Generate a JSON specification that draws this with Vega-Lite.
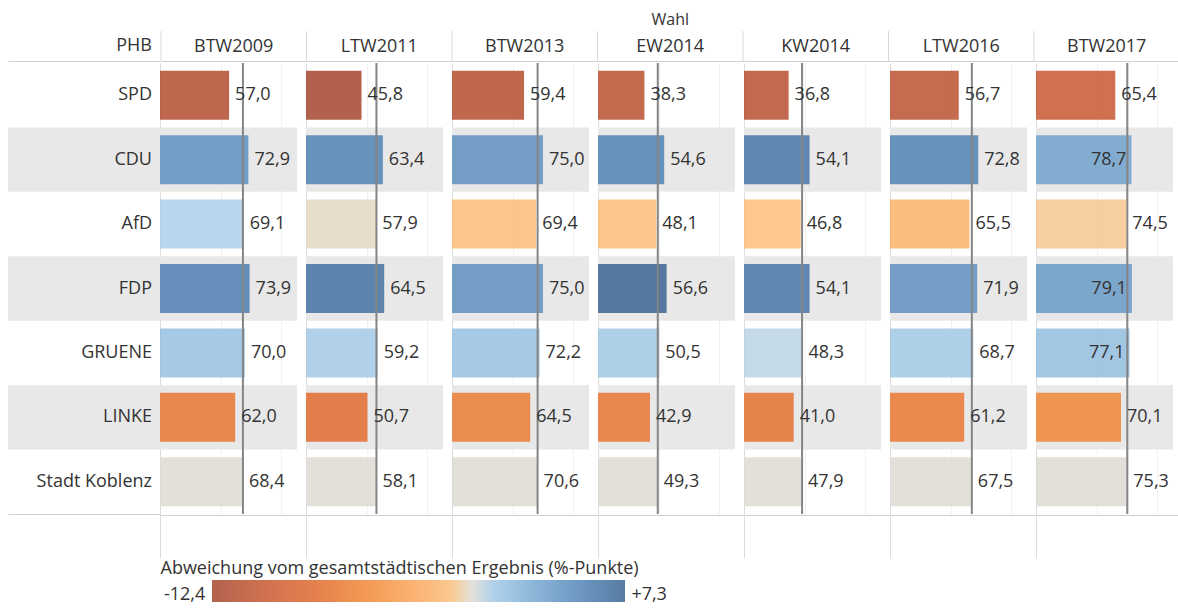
{
  "$schema": "https://vega.github.io/schema/vega-lite/v6.json",
  "padding": {"left": 8, "top": 11, "right": 0, "bottom": 0},
  "background": "white",
  "config": {
    "font": "Open Sans",
    "view": {"stroke": null},
    "locale": {"number": {"decimal": ",", "thousands": ".", "grouping": [3], "currency": ["", " €"], "minus": "-"}}
  },
  "datasets": {
    "main": [
      {"election": "BTW2009", "party": "SPD", "value": 57.0, "dev": -11.4},
      {"election": "BTW2009", "party": "CDU", "value": 72.9, "dev": 4.5},
      {"election": "BTW2009", "party": "AfD", "value": 69.1, "dev": 0.7},
      {"election": "BTW2009", "party": "FDP", "value": 73.9, "dev": 5.5},
      {"election": "BTW2009", "party": "GRUENE", "value": 70.0, "dev": 1.6},
      {"election": "BTW2009", "party": "LINKE", "value": 62.0, "dev": -6.4},
      {"election": "BTW2009", "party": "Stadt Koblenz", "value": 68.4, "dev": 0.0},
      {"election": "LTW2011", "party": "SPD", "value": 45.8, "dev": -12.4},
      {"election": "LTW2011", "party": "CDU", "value": 63.4, "dev": 5.3},
      {"election": "LTW2011", "party": "AfD", "value": 57.9, "dev": -0.2},
      {"election": "LTW2011", "party": "FDP", "value": 64.5, "dev": 6.4},
      {"election": "LTW2011", "party": "GRUENE", "value": 59.2, "dev": 1.1},
      {"election": "LTW2011", "party": "LINKE", "value": 50.7, "dev": -7.4},
      {"election": "LTW2011", "party": "Stadt Koblenz", "value": 58.1, "dev": 0.0},
      {"election": "BTW2013", "party": "SPD", "value": 59.4, "dev": -11.2},
      {"election": "BTW2013", "party": "CDU", "value": 75.0, "dev": 4.4},
      {"election": "BTW2013", "party": "AfD", "value": 69.4, "dev": -1.2},
      {"election": "BTW2013", "party": "FDP", "value": 75.0, "dev": 4.4},
      {"election": "BTW2013", "party": "GRUENE", "value": 72.2, "dev": 1.6},
      {"election": "BTW2013", "party": "LINKE", "value": 64.5, "dev": -6.1},
      {"election": "BTW2013", "party": "Stadt Koblenz", "value": 70.6, "dev": 0.0},
      {"election": "EW2014", "party": "SPD", "value": 38.3, "dev": -11.0},
      {"election": "EW2014", "party": "CDU", "value": 54.6, "dev": 5.3},
      {"election": "EW2014", "party": "AfD", "value": 48.1, "dev": -1.2},
      {"election": "EW2014", "party": "FDP", "value": 56.6, "dev": 7.3},
      {"election": "EW2014", "party": "GRUENE", "value": 50.5, "dev": 1.2},
      {"election": "EW2014", "party": "LINKE", "value": 42.9, "dev": -6.4},
      {"election": "EW2014", "party": "Stadt Koblenz", "value": 49.3, "dev": 0.0},
      {"election": "KW2014", "party": "SPD", "value": 36.8, "dev": -11.1},
      {"election": "KW2014", "party": "CDU", "value": 54.1, "dev": 6.2},
      {"election": "KW2014", "party": "AfD", "value": 46.8, "dev": -1.1},
      {"election": "KW2014", "party": "FDP", "value": 54.1, "dev": 6.2},
      {"election": "KW2014", "party": "GRUENE", "value": 48.3, "dev": 0.4},
      {"election": "KW2014", "party": "LINKE", "value": 41.0, "dev": -6.9},
      {"election": "KW2014", "party": "Stadt Koblenz", "value": 47.9, "dev": 0.0},
      {"election": "LTW2016", "party": "SPD", "value": 56.7, "dev": -10.8},
      {"election": "LTW2016", "party": "CDU", "value": 72.8, "dev": 5.3},
      {"election": "LTW2016", "party": "AfD", "value": 65.5, "dev": -2.0},
      {"election": "LTW2016", "party": "FDP", "value": 71.9, "dev": 4.4},
      {"election": "LTW2016", "party": "GRUENE", "value": 68.7, "dev": 1.2},
      {"election": "LTW2016", "party": "LINKE", "value": 61.2, "dev": -6.3},
      {"election": "LTW2016", "party": "Stadt Koblenz", "value": 67.5, "dev": 0.0},
      {"election": "BTW2017", "party": "SPD", "value": 65.4, "dev": -9.9},
      {"election": "BTW2017", "party": "CDU", "value": 78.7, "dev": 3.4},
      {"election": "BTW2017", "party": "AfD", "value": 74.5, "dev": -0.8},
      {"election": "BTW2017", "party": "FDP", "value": 79.1, "dev": 3.8},
      {"election": "BTW2017", "party": "GRUENE", "value": 77.1, "dev": 1.8},
      {"election": "BTW2017", "party": "LINKE", "value": 70.1, "dev": -5.2},
      {"election": "BTW2017", "party": "Stadt Koblenz", "value": 75.3, "dev": 0.0}
    ]
  },
  "spacing": 0,
  "vconcat": [
    {
      "spacing": 0,
      "hconcat": [
        {
          "width": 152,
          "height": 30,
          "data": {"values": [{"label": "PHB"}]},
          "mark": {"type": "text", "align": "right", "dx": -8, "fontSize": 18, "color": "#333333"},
          "encoding": {
            "x": {"datum": 1, "type": "quantitative", "scale": {"domain": [0, 1]}, "axis": {"labels": false, "ticks": false, "grid": false, "title": null, "domainColor": "#d0d0d0"}},
            "text": {"field": "label"}
          }
        },
        {
          "width": 1018.5,
          "height": 30,
          "data": {"name": "main"},
          "transform": [{"filter": "datum.party === 'SPD'"}],
          "title": {"text": "Wahl", "fontSize": 16, "fontWeight": "normal", "color": "#333333", "offset": 3, "anchor": "middle"},
          "layer": [
            {
              "mark": {"type": "rule", "color": "#d9d9d9"},
              "encoding": {
                "x": {"field": "election", "type": "nominal", "bandPosition": 0, "sort": ["BTW2009", "LTW2011", "BTW2013", "EW2014", "KW2014", "LTW2016", "BTW2017"], "scale": {"paddingInner": 0, "paddingOuter": 0}, "axis": {"labels": false, "ticks": false, "grid": false, "title": null, "domainColor": "#d0d0d0"}}
              }
            },
            {
              "mark": {"type": "text", "fontSize": 18, "color": "#333333", "dy": 1},
              "encoding": {
                "x": {"field": "election", "type": "nominal", "sort": ["BTW2009", "LTW2011", "BTW2013", "EW2014", "KW2014", "LTW2016", "BTW2017"]},
                "text": {"field": "election"}
              }
            }
          ]
        }
      ]
    },
    {
      "spacing": 0,
      "bounds": "flush",
      "hconcat": [
        {
          "width": 152,
          "height": 451,
          "data": {"name": "main"},
          "transform": [{"filter": "datum.election === 'BTW2009'"}],
          "layer": [
            {
              "transform": [{"filter": {"field": "party", "oneOf": ["CDU", "FDP", "LINKE"]}}],
              "mark": {"type": "rect", "color": "#e8e8e8"},
              "encoding": {
                "x": {"datum": 0, "type": "quantitative", "scale": {"domain": [0, 1]},
                  "axis": {"labels": false, "ticks": false, "grid": false, "domainColor": "#d0d0d0",
                    "title": "Abweichung vom gesamtstädtischen Ergebnis (%-Punkte)",
                    "titleX": 152, "titleY": 54, "titleAlign": "left", "titleAnchor": "start", "titleBaseline": "middle",
                    "titleFontSize": 18, "titleFontWeight": "normal", "titleColor": "#333333", "titleLimit": 700}},
                "x2": {"datum": 1},
                "y": {"field": "party", "type": "nominal", "sort": ["SPD", "CDU", "AfD", "FDP", "GRUENE", "LINKE", "Stadt Koblenz"], "scale": {"paddingInner": 0, "paddingOuter": 0}, "axis": null}
              }
            },
            {
              "mark": {"type": "text", "align": "right", "dx": -8, "fontSize": 18, "color": "#333333"},
              "encoding": {
                "x": {"datum": 1, "type": "quantitative"},
                "y": {"field": "party", "type": "nominal", "sort": ["SPD", "CDU", "AfD", "FDP", "GRUENE", "LINKE", "Stadt Koblenz"]},
                "text": {"field": "party"}
              }
            }
          ]
        },
        {
          "data": {"name": "main"},
          "spacing": 0,
          "facet": {"column": {"field": "election", "type": "nominal", "sort": ["BTW2009", "LTW2011", "BTW2013", "EW2014", "KW2014", "LTW2016", "BTW2017"], "header": null}},
          "spec": {
            "width": 145.5,
            "height": 451,
            "layer": [
              {
                "transform": [{"filter": {"field": "party", "oneOf": ["CDU", "FDP", "LINKE"]}}],
                "mark": {"type": "rect", "color": "#e8e8e8"},
                "encoding": {
                  "x": {"datum": 0, "type": "quantitative", "scale": {"domain": [0, 113]},
                    "axis": {"values": [0, 50, 100], "labels": false, "title": null, "grid": true,
                      "gridColor": {"condition": {"test": "datum.value === 0", "value": "#dcdcdc"}, "value": "#f1f1f1"},
                      "ticks": true, "tickSize": 43,
                      "tickColor": {"condition": {"test": "datum.value === 0", "value": "#dcdcdc"}, "value": "transparent"},
                      "domain": true, "domainColor": "#d0d0d0"}},
                  "x2": {"datum": 113},
                  "y": {"field": "party", "type": "nominal", "sort": ["SPD", "CDU", "AfD", "FDP", "GRUENE", "LINKE", "Stadt Koblenz"], "scale": {"paddingInner": 0, "paddingOuter": 0}, "axis": null}
                }
              },
              {
                "mark": {"type": "bar", "opacity": 0.85, "height": {"band": 0.76}},
                "encoding": {
                  "x": {"field": "value", "type": "quantitative"},
                  "y": {"field": "party", "type": "nominal", "sort": ["SPD", "CDU", "AfD", "FDP", "GRUENE", "LINKE", "Stadt Koblenz"]},
                  "color": {
                    "field": "dev", "type": "quantitative",
                    "scale": {
                      "interpolate": "rgb",
                      "domain": [-12.4, -9.8, -7.5, -5.1, -2.75, -1.07, 0, 0.54, 2.9, 5.3, 7.3],
                      "range": ["#a5462d", "#c85832", "#e1692d", "#f08737", "#faa55a", "#fcbe78", "#dedbd3", "#afd2eb", "#78aad2", "#5082b4", "#3a6491"]
                    },
                    "legend": {
                      "orient": "none", "legendX": 204, "legendY": 549,
                      "direction": "horizontal",
                      "title": null,
                      "gradientLength": 413, "gradientThickness": 22, "gradientStrokeWidth": 0,
                      "values": [-14.69, 9.3],
                      "labelExpr": "datum.value < 0 ? '-12,4' : '+7,3'",
                      "labelFontSize": 18, "labelColor": "#333333", "labelOffset": -16, "padding": 0
                    }
                  }
                }
              },
              {
                "transform": [{"filter": "datum.party === 'Stadt Koblenz'"}],
                "mark": {"type": "rule", "color": "#858585", "strokeWidth": 2},
                "encoding": {
                  "x": {"field": "value", "type": "quantitative"}
                }
              },
              {
                "transform": [{"filter": "datum.value <= 76"}],
                "mark": {"type": "text", "align": "left", "dx": 6, "fontSize": 18, "color": "#333333"},
                "encoding": {
                  "x": {"field": "value", "type": "quantitative"},
                  "y": {"field": "party", "type": "nominal", "sort": ["SPD", "CDU", "AfD", "FDP", "GRUENE", "LINKE", "Stadt Koblenz"]},
                  "text": {"field": "value", "type": "quantitative", "format": ".1f"}
                }
              },
              {
                "transform": [{"filter": "datum.value > 76"}],
                "mark": {"type": "text", "align": "right", "dx": -5, "fontSize": 18, "color": "#333333"},
                "encoding": {
                  "x": {"field": "value", "type": "quantitative"},
                  "y": {"field": "party", "type": "nominal", "sort": ["SPD", "CDU", "AfD", "FDP", "GRUENE", "LINKE", "Stadt Koblenz"]},
                  "text": {"field": "value", "type": "quantitative", "format": ".1f"}
                }
              }
            ]
          }
        }
      ]
    }
  ]
}
